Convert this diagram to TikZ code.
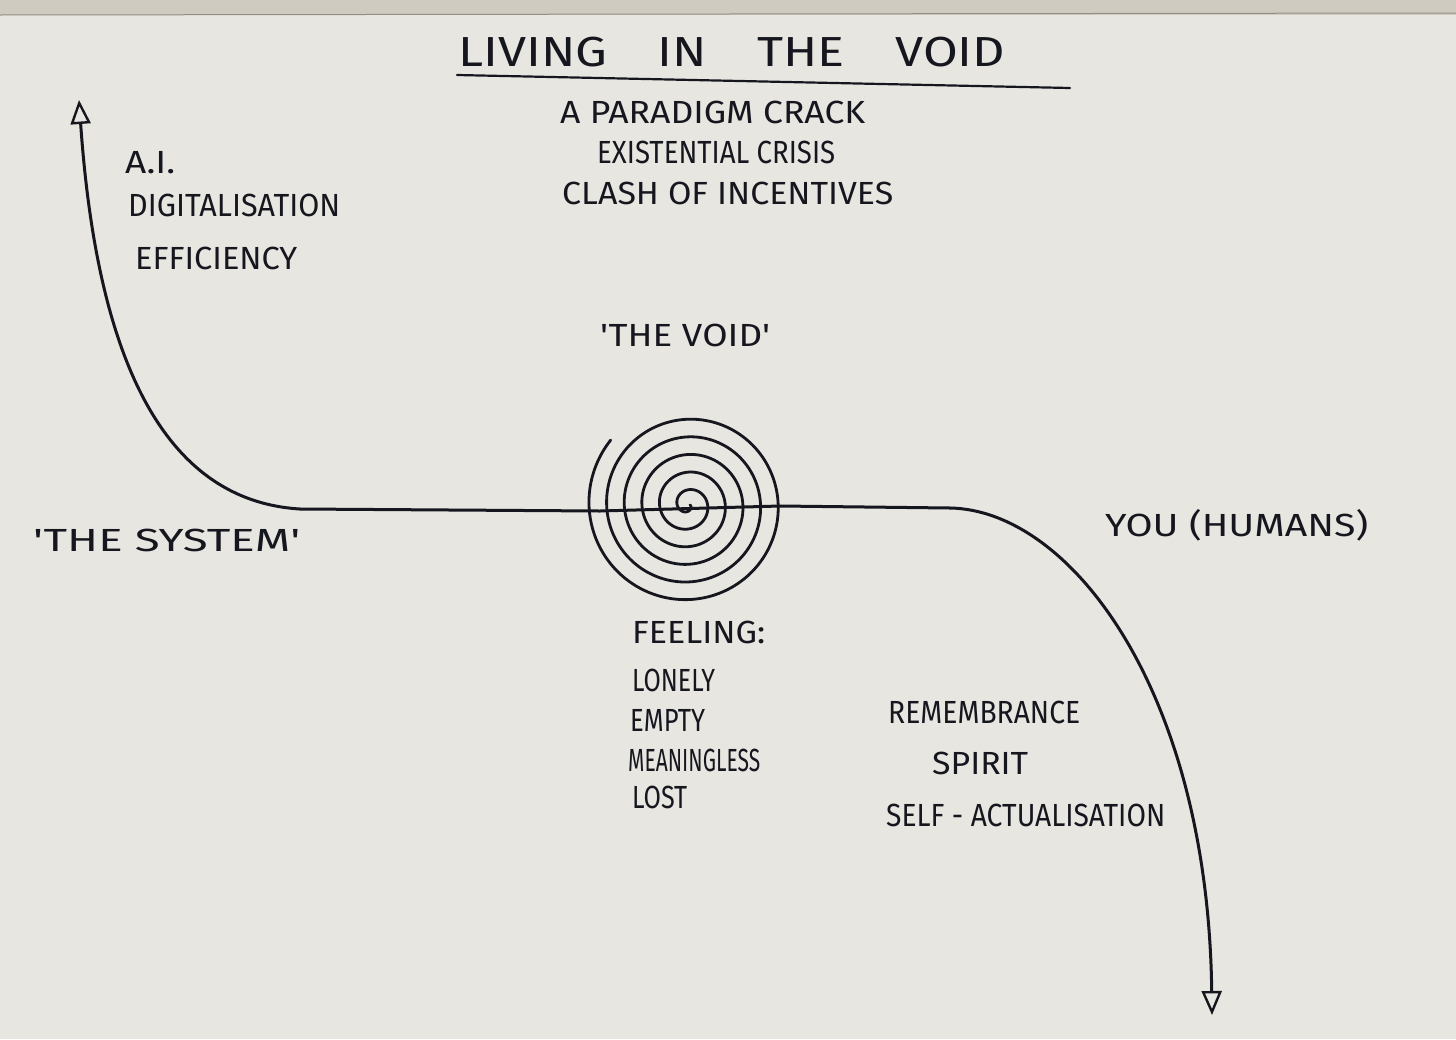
\documentclass[tikz,border=0pt]{standalone}
\usepackage{fontspec}
\usepackage{graphicx}
\usetikzlibrary{arrows.meta}
\newfontfamily\hand{Fira Sans}
\definecolor{paper}{RGB}{232,230,225}
\definecolor{paperedge}{RGB}{208,203,192}
\definecolor{ink}{RGB}{22,22,30}
\newcommand{\fitw}[2]{\resizebox{#1pt}{\height}{#2}}
\begin{document}
\begin{tikzpicture}[x=1pt,y=-1pt,
  lbl/.style={anchor=west,inner sep=0pt,text=ink,font=\hand\fontsize{32}{38}\selectfont},
  big/.style={lbl,font=\hand\fontsize{42}{48}\selectfont},
  pen/.style={line width=3pt,draw=ink,line cap=round,line join=round},
  tip/.style={-{Triangle[open,length=24pt,width=20pt,line width=2.4pt]}}]
\fill[paper] (0,0) rectangle (1456,1039);
\useasboundingbox (0,0) rectangle (1456,1039);
\fill[paperedge] (0,0) rectangle (1456,15);
\draw[line width=1pt,draw=paperedge!70!black] (0,15) -- (1456,13);

% title
\node[big] (title) at (458,52) {\fitw{547}{LIVING\quad IN\quad THE\quad VOID}};
\coordinate (ul1) at (457,75);
\coordinate (ul2) at (1070,88);
\draw[pen,line width=2.2pt] (ul1) -- (ul2);

\node[lbl] (sub1) at (560,112) {\fitw{305}{A PARADIGM CRACK}};
\node[lbl] (sub2) at (597,152) {\fitw{238}{EXISTENTIAL CRISIS}};
\node[lbl] (sub3) at (562,193) {\fitw{331}{CLASH OF INCENTIVES}};

\node[lbl] (ai) at (125,163) {\fitw{50}{A.I.}};
\node[lbl] (digi) at (128,205) {\fitw{212}{DIGITALISATION}};
\node[lbl] (eff) at (135,258) {\fitw{162}{EFFICIENCY}};

\node[lbl] (void) at (600,335) {\fitw{170}{'THE VOID'}};
\node[lbl] (system) at (33,540) {\fitw{267}{'THE SYSTEM'}};
\node[lbl] (you) at (1105,525) {\fitw{263}{YOU (HUMANS)}};

\node[lbl] (feel) at (632,632) {\fitw{133}{FEELING:}};
\node[lbl] (lonely) at (632,680) {\fitw{83}{LONELY}};
\node[lbl] (empty) at (630,720) {\fitw{75}{EMPTY}};
\node[lbl] (meaning) at (628,760) {\fitw{132}{MEANINGLESS}};
\node[lbl] (lost) at (632,797) {\fitw{55}{LOST}};

\node[lbl] (remem) at (888,712) {\fitw{192}{REMEMBRANCE}};
\node[lbl] (spirit) at (932,763) {\fitw{96}{SPIRIT}};
\node[lbl] (selfact) at (886,815) {\fitw{279}{SELF - ACTUALISATION}};

% main curve
\coordinate (tipA) at (79,100);
\coordinate (bendA) at (300,509);
\coordinate (mid1) at (600,511);
\coordinate (mid2) at (780,506);
\coordinate (bendB) at (950,508);
\coordinate (tipB) at (1212,1015);
\draw[pen,tip] (bendA) .. controls (150,500) and (95,330) .. (tipA);
\draw[pen] (bendA) -- (mid1) -- (mid2) -- (bendB);
\draw[pen,tip] (bendB) .. controls (1070,510) and (1208,690) .. (tipB);

% spiral
\draw[pen,line width=2.8pt] plot[domain=0:2020,samples=500,smooth]
  ({688+(2+0.049*\x)*cos(\x)},{505+(2+0.049*\x)*sin(\x)});
\end{tikzpicture}
\end{document}
